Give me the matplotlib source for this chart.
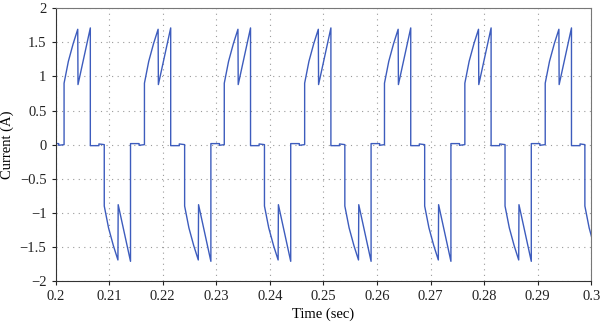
import numpy as np
import matplotlib
matplotlib.use("Agg")
import matplotlib.pyplot as plt
from matplotlib.ticker import FuncFormatter

# times (s) where the positive current pulses start
pos_starts = [0.1866, 0.2016, 0.2166, 0.2315, 0.2465, 0.2614, 0.2764, 0.2914]
# times where the negative pulses start
neg_starts = [0.1941, 0.2091, 0.2241, 0.2390, 0.2540, 0.2689, 0.2839, 0.2988]

# one pulse, offsets from its start (s) and current (A)
pulse_dt = [0.0, 0.0, 0.0008, 0.0017, 0.0024, 0.00255, 0.0026, 0.0049, 0.0049]
pulse_val = [0.0, 0.90, 1.22, 1.48, 1.65, 1.69, 0.88, 1.71, 0.0]
# small offsets of the idle segment after a pulse
idle_dt = [0.0049, 0.0065, 0.0065]
idle_val = [-0.015, -0.015, 0.01]

t = []
i = []
for sp, sn in zip(pos_starts, neg_starts):
    for d, v in zip(pulse_dt, pulse_val):
        t.append(sp + d); i.append(v)
    for d, v in zip(idle_dt, idle_val):
        t.append(sp + d); i.append(v)
    for d, v in zip(pulse_dt, pulse_val):
        t.append(sn + d); i.append(-v)
    for d, v in zip(idle_dt, idle_val):
        t.append(sn + d); i.append(-v)

plt.rcParams['font.family'] = ['Liberation Serif', 'DejaVu Serif']

fig = plt.figure(figsize=(6, 3.25), dpi=100)
ax = fig.add_axes([0.0925, 0.135, 0.893, 0.84])
ax.plot(t, i, color="#3d5cbd", lw=1.0)

ax.set_xlim(0.2, 0.3)
ax.set_ylim(-2, 2)
ax.set_xticks(np.arange(0.2, 0.3001, 0.01))
ax.set_yticks(np.arange(-2, 2.01, 0.5))
fmt = FuncFormatter(lambda v, p: ("%g" % round(v, 3)).replace("-", "\u2212"))
ax.xaxis.set_major_formatter(fmt)
ax.yaxis.set_major_formatter(fmt)
ax.tick_params(direction="out", length=3, width=0.8, labelsize=10.5, colors="#222222")
ax.grid(True, color="#9a9a9a", linestyle=(0, (1, 4)), linewidth=0.8)

for s in ["left", "bottom"]:
    ax.spines[s].set_color("#333333")
for s in ["top", "right"]:
    ax.spines[s].set_color("#777777")

ax.set_xlabel("Time (sec)", fontsize=10.5, labelpad=3)
ax.set_ylabel("Current (A)", fontsize=10.5, labelpad=4)

fig.savefig("out.png", dpi=100)
